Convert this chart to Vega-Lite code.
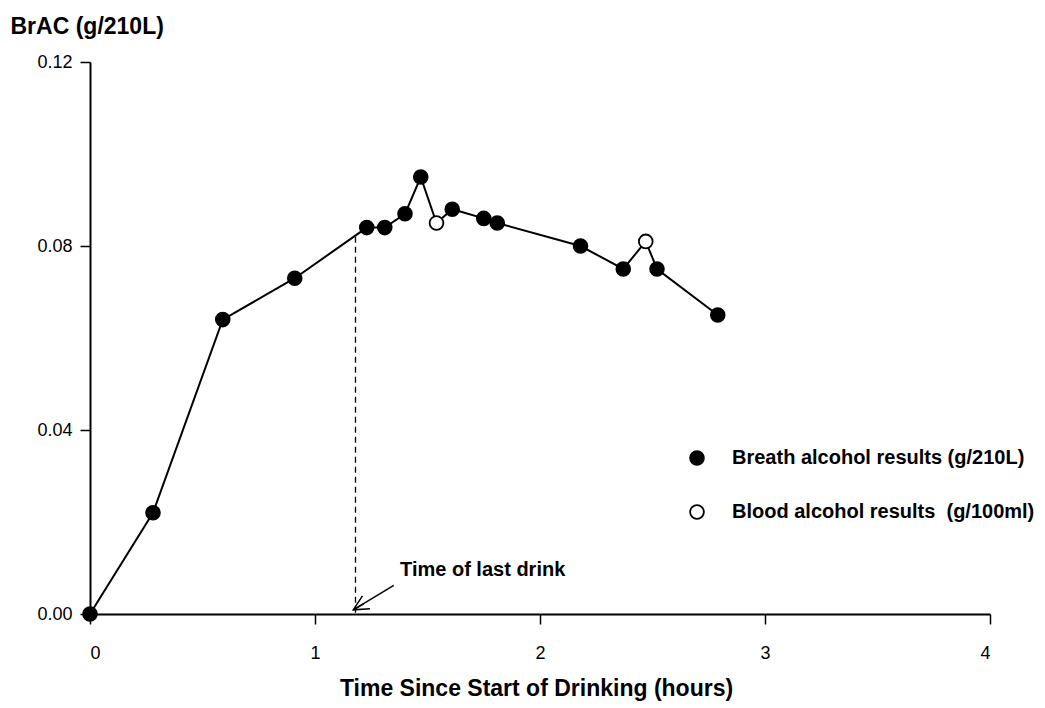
{
  "$schema": "https://vega.github.io/schema/vega-lite/v6.json",
  "width": 900,
  "height": 552,
  "autosize": {"type": "none"},
  "padding": {"left": 90, "top": 62, "right": 55, "bottom": 94},
  "background": "white",
  "config": {
    "font": "Liberation Sans",
    "view": {"stroke": null},
    "axis": {
      "grid": false,
      "domainColor": "black",
      "domainWidth": 2,
      "tickColor": "black",
      "tickWidth": 1.5,
      "tickSize": 10,
      "labelFont": "Liberation Sans",
      "labelFontSize": 18,
      "labelColor": "black",
      "titleFont": "Liberation Sans",
      "titleFontSize": 23,
      "titleFontWeight": "bold",
      "titleColor": "black"
    }
  },
  "datasets": {
    "main": [
      {"t": 0.0, "v": 0.0, "type": "Breath alcohol results (g/210L)"},
      {"t": 0.28, "v": 0.022, "type": "Breath alcohol results (g/210L)"},
      {"t": 0.59, "v": 0.064, "type": "Breath alcohol results (g/210L)"},
      {"t": 0.91, "v": 0.073, "type": "Breath alcohol results (g/210L)"},
      {"t": 1.23, "v": 0.084, "type": "Breath alcohol results (g/210L)"},
      {"t": 1.31, "v": 0.084, "type": "Breath alcohol results (g/210L)"},
      {"t": 1.40, "v": 0.087, "type": "Breath alcohol results (g/210L)"},
      {"t": 1.47, "v": 0.095, "type": "Breath alcohol results (g/210L)"},
      {"t": 1.54, "v": 0.085, "type": "Blood alcohol results\u00a0 (g/100ml)"},
      {"t": 1.61, "v": 0.088, "type": "Breath alcohol results (g/210L)"},
      {"t": 1.75, "v": 0.086, "type": "Breath alcohol results (g/210L)"},
      {"t": 1.81, "v": 0.085, "type": "Breath alcohol results (g/210L)"},
      {"t": 2.18, "v": 0.080, "type": "Breath alcohol results (g/210L)"},
      {"t": 2.37, "v": 0.075, "type": "Breath alcohol results (g/210L)"},
      {"t": 2.47, "v": 0.081, "type": "Blood alcohol results\u00a0 (g/100ml)"},
      {"t": 2.52, "v": 0.075, "type": "Breath alcohol results (g/210L)"},
      {"t": 2.79, "v": 0.065, "type": "Breath alcohol results (g/210L)"}
    ]
  },
  "layer": [
    {
      "data": {"values": [{"t": 1.18, "v": 0.082}]},
      "mark": {"type": "rule", "color": "black", "strokeWidth": 1.3, "strokeDash": [6, 4]},
      "encoding": {
        "x": {"field": "t", "type": "quantitative"},
        "y": {"field": "v", "type": "quantitative"},
        "y2": {"datum": 0}
      }
    },
    {
      "data": {"name": "main"},
      "mark": {"type": "line", "color": "black", "strokeWidth": 2},
      "encoding": {
        "x": {
          "field": "t", "type": "quantitative",
          "scale": {"domain": [0, 4], "nice": false},
          "axis": {
            "values": [0, 1, 2, 3, 4], "format": "d", "labelPadding": 20,
            "title": "Time Since Start of Drinking (hours)",
            "titleX": 446, "titleY": 81, "titleAlign": "center", "titleBaseline": "alphabetic"
          }
        },
        "y": {
          "field": "v", "type": "quantitative",
          "scale": {"domain": [0, 0.12], "nice": false, "zero": true},
          "axis": {
            "values": [0, 0.04, 0.08, 0.12], "format": ".2f", "labelPadding": 8,
            "title": "BrAC (g/210L)",
            "titleAngle": 0, "titleX": -80, "titleY": -29, "titleAlign": "left", "titleBaseline": "alphabetic"
          }
        },
        "order": {"field": "t", "type": "quantitative"}
      }
    },
    {
      "data": {"name": "main"},
      "mark": {"type": "point", "shape": "circle", "filled": true, "stroke": "black", "strokeWidth": 1.8, "size": 190, "opacity": 1},
      "encoding": {
        "x": {"field": "t", "type": "quantitative"},
        "y": {"field": "v", "type": "quantitative"},
        "fill": {
          "field": "type", "type": "nominal",
          "scale": {
            "domain": ["Breath alcohol results (g/210L)", "Blood alcohol results\u00a0 (g/100ml)"],
            "range": ["black", "white"]
          },
          "legend": {
            "title": null,
            "orient": "none",
            "legendX": 597,
            "legendY": 386,
            "padding": 0,
            "symbolType": "circle",
            "symbolSize": 190,
            "symbolStrokeColor": "black",
            "symbolStrokeWidth": 1.8,
            "symbolOpacity": 1,
            "labelFont": "Liberation Sans",
            "labelFontSize": 20,
            "labelFontWeight": "bold",
            "labelColor": "black",
            "labelOffset": 25,
            "labelLimit": 400,
            "rowPadding": 32
          }
        }
      }
    },
    {
      "data": {"values": [{"t1": 1.35, "v1": 0.0062, "t2": 1.17, "v2": 0.0009}]},
      "mark": {"type": "rule", "color": "black", "strokeWidth": 1.5},
      "encoding": {
        "x": {"field": "t1", "type": "quantitative"},
        "y": {"field": "v1", "type": "quantitative"},
        "x2": {"field": "t2"},
        "y2": {"field": "v2"}
      }
    },
    {
      "data": {"values": [{"t": 1.17, "v": 0.0009}]},
      "mark": {"type": "point", "shape": "M-1,-0.5L0,0L-1,0.5M-0.8,0L0,0", "filled": false, "stroke": "black", "strokeWidth": 1.5, "size": 900, "angle": 150, "opacity": 1},
      "encoding": {
        "x": {"field": "t", "type": "quantitative"},
        "y": {"field": "v", "type": "quantitative"}
      }
    },
    {
      "data": {"values": [{"t": 1.378, "v": 0.0096, "label": "Time of last drink"}]},
      "mark": {"type": "text", "align": "left", "baseline": "middle", "font": "Liberation Sans", "fontSize": 20, "fontWeight": "bold", "color": "black"},
      "encoding": {
        "x": {"field": "t", "type": "quantitative"},
        "y": {"field": "v", "type": "quantitative"},
        "text": {"field": "label"}
      }
    }
  ]
}
